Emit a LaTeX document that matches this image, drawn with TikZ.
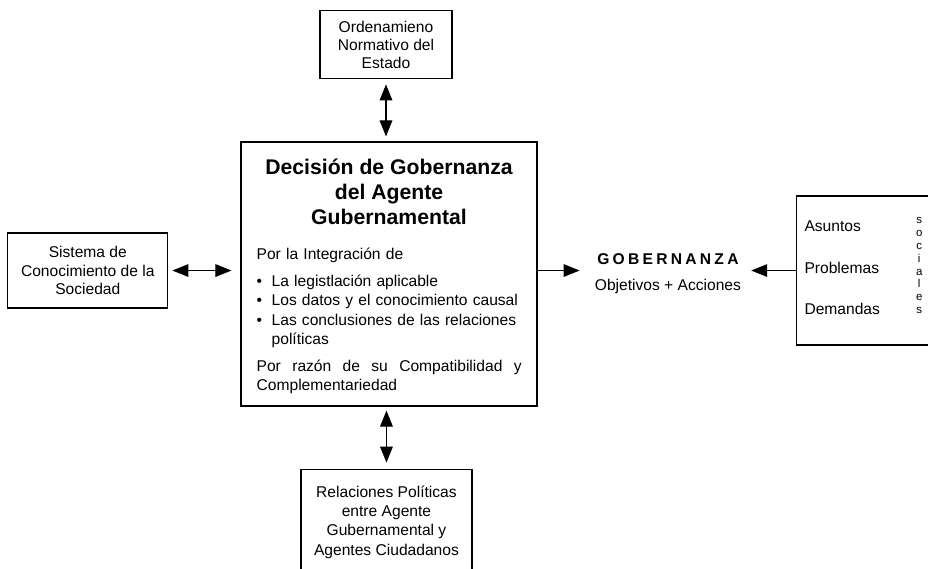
\documentclass[tikz,border=0pt]{standalone}
\usepackage{fontspec}
\setmainfont{Liberation Sans}
\usetikzlibrary{positioning,arrows.meta}
\tikzstyle{caja} = [draw, line width=0.9pt, align=center, inner sep=0pt, font=\fontsize{11.7}{13.6}\selectfont]
\tikzstyle{texto} = [inner sep=0pt, font=\fontsize{11.7}{14.6}\selectfont]
\tikzstyle{doble} = [{Triangle[length=12pt,width=9.5pt]}-{Triangle[length=12pt,width=9.5pt]}, line width=0.8pt]
\tikzstyle{simple} = [-{Triangle[length=12pt,width=9.5pt]}, line width=0.8pt]
\newcommand{\vineta}{\makebox[11.25pt][l]{\textbullet}}

\begin{document}
\begin{tikzpicture}

\useasboundingbox (-291.75pt,-220.5pt) rectangle (404.25pt,205.5pt);

\node[draw, line width=0.9pt, minimum width=222pt, minimum height=198pt, inner sep=0pt] (dec) at (0,0) {};
\node[inner sep=0pt, anchor=north, align=center, font=\fontsize{15.9}{18.75}\selectfont\bfseries] (titulo) at ([yshift=-13.25pt]dec.north) {Decisión de Gobernanza\\del Agente\\Gubernamental};
\node[texto, anchor=north west, text width=198.75pt, align=left] (cuerpo) at ([xshift=12pt, yshift=-79.5pt]dec.north west) {Por la Integración de\\[5.6pt]
\vineta La legistlación aplicable\\
\vineta Los datos y el conocimiento causal\\
\vineta Las conclusiones de las relaciones\\
\hspace*{11.25pt}políticas\\[5.6pt]
Por\hfill razón\hfill de\hfill su\hfill Compatibilidad\hfill y\\
Complementariedad};

\node[caja, minimum width=99pt, minimum height=51pt, above=46.5pt of dec, xshift=-2.25pt] (ord) {Ordenamieno\\Normativo del\\Estado};
\node[caja, minimum width=120pt, minimum height=56.25pt, left=54pt of dec, yshift=2.6pt] (sis) {Sistema de\\Conocimiento de la\\Sociedad};
\node[caja, minimum width=128.25pt, minimum height=79.5pt, below=46.5pt of dec, xshift=-1.9pt, font=\fontsize{11.7}{14.5}\selectfont] (rel) {Relaciones Políticas\\entre Agente\\Gubernamental y\\Agentes Ciudadanos};

\node[texto, right=42.75pt of dec, align=center, font=\fontsize{11.7}{19.5}\selectfont] (gob) {{\bfseries\addfontfeatures{LetterSpace=21}GOBERNANZA}\\Objetivos + Acciones};

\node[draw, line width=0.9pt, minimum width=105pt, minimum height=111.75pt, inner sep=0pt, right=41.25pt of gob, yshift=2.6pt] (soc) {};
\node[texto, anchor=west] (prob) at ([xshift=6pt, yshift=2.25pt]soc.west) {Problemas};
\node[texto, anchor=west] (asu) at ([yshift=30.75pt]prob.west) {Asuntos};
\node[texto, anchor=west] (dem) at ([yshift=-30.75pt]prob.west) {Demandas};
\node[inner sep=0pt, align=center, font=\fontsize{8.6}{9.7}\selectfont] (letras) at ([xshift=92.25pt, yshift=3.75pt]soc.west) {s\\o\\c\\i\\a\\l\\e\\s};

\draw[doble, shorten <=3.75pt, shorten >=3.75pt] (ord.south) -- (ord.south |- dec.north);
\draw[doble, shorten <=3pt, shorten >=4.5pt] (dec.south -| rel.north) -- (rel.north);
\draw[doble, shorten <=3pt, shorten >=6.75pt] (sis.east) -- (sis.east -| dec.west);
\draw[simple, shorten >=11.25pt] (dec.east |- sis.east) -- (sis.east -| gob.west);
\draw[simple, shorten >=7.5pt] (soc.west |- sis.east) -- (sis.east -| gob.east);

\end{tikzpicture}
\end{document}
